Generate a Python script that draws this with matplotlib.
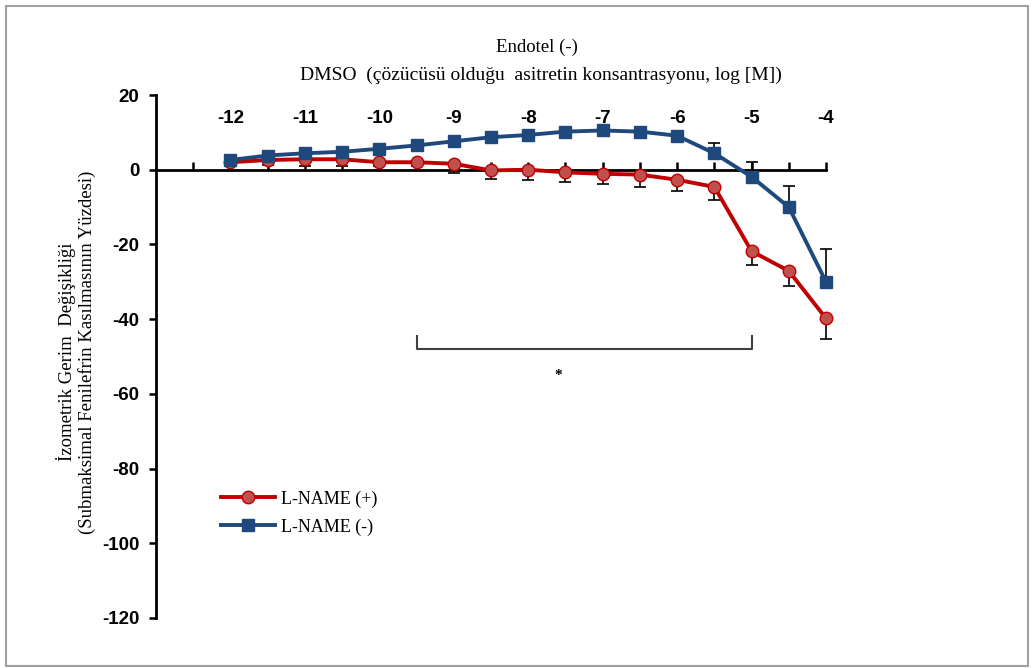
import matplotlib
matplotlib.use("Agg")
import matplotlib.pyplot as plt
from matplotlib.patches import Rectangle
import numpy as np

# ---- data ----
log_conc = [-12, -11.5, -11, -10.5, -10, -9.5, -9, -8.5, -8, -7.5, -7, -6.5, -6, -5.5, -5, -4.5, -4]
lname_pos = [2.0, 2.6, 2.8, 2.8, 2.0, 2.0, 1.6, -0.2, 0.0, -0.7, -1.1, -1.3, -2.7, -4.6, -21.8, -27.1, -39.8]
lname_pos_err = [1.0, 1.4, 1.8, 1.8, 1.0, 1.0, 2.5, 2.2, 2.8, 2.7, 2.7, 3.3, 3.1, 3.4, 3.6, 4.0, 5.6]
lname_neg = [2.6, 3.8, 4.4, 4.8, 5.6, 6.5, 7.6, 8.7, 9.3, 10.2, 10.5, 10.2, 9.1, 4.4, -1.9, -10.0, -30.0]
lname_neg_err = [0.8, 0.8, 0.8, 0.8, 0.8, 0.8, 0.8, 0.8, 0.8, 0.8, 0.8, 0.8, 0.8, 2.7, 3.9, 5.6, 8.8]
xtick_labels = [-12, -11, -10, -9, -8, -7, -6, -5, -4]
yticks = [20, 0, -20, -40, -60, -80, -100, -120]
series_names = ["L-NAME (+)", "L-NAME (-)"]
bracket_x = [-9.5, -5]

red = "#C00000"
red_fill = "#C0504D"
blue = "#1F497D"

fig = plt.figure(figsize=(10.35, 6.68), dpi=100)
ax = fig.add_axes([156/1035, 1-618/668, (826-156)/1035, (618-95)/668])

# error bars (one-sided)
z = np.zeros(len(log_conc))
e1 = ax.errorbar(log_conc, lname_pos, yerr=[lname_pos_err, z], fmt="none",
                 ecolor="black", elinewidth=1.2, capsize=4.5, capthick=1.2, zorder=2)
e2 = ax.errorbar(log_conc, lname_neg, yerr=[z, lname_neg_err], fmt="none",
                 ecolor="black", elinewidth=1.2, capsize=4.5, capthick=1.2, zorder=2)
for e in (e1, e2):
    for art in e.lines[1] + e.lines[2]:
        art.set_clip_on(False)

l1, = ax.plot(log_conc, lname_pos, color=red, lw=2.8, marker="o", ms=9,
              mfc=red_fill, mec=red, mew=1, zorder=4, label=series_names[0], clip_on=False)
l2, = ax.plot(log_conc, lname_neg, color=blue, lw=2.8, marker="s", ms=8.5,
              mfc=blue, mec=blue, zorder=5, label=series_names[1], clip_on=False)

ax.set_xlim(-13, -4)
ax.set_ylim(-120, 20)

for s in ["top", "right"]:
    ax.spines[s].set_visible(False)
ax.spines["bottom"].set_position(("data", 0))
ax.spines["bottom"].set_linewidth(2)
ax.spines["left"].set_linewidth(2)

ax.set_xticks(np.arange(-12.5, -3.9, 0.5))
ax.tick_params(axis="x", direction="in", length=6, width=1.8, labelbottom=False)
ax.set_yticks(yticks)
ax.set_yticklabels([str(v) for v in yticks], fontfamily="Liberation Sans",
                   fontweight="bold", fontsize=13.5)
ax.tick_params(axis="y", direction="out", length=5, width=1.8, pad=7)

for v in xtick_labels:
    ax.text(v, 13.7, str(v), ha="center", va="center", fontfamily="Liberation Sans",
            fontweight="bold", fontsize=13.5)

# significance bracket
ax.plot([bracket_x[0], bracket_x[0], bracket_x[1], bracket_x[1]],
        [-44.5, -48, -48, -44.5], color="#404040", lw=1.5, zorder=1)
ax.text(-7.6, -55, "*", ha="center", va="center", fontsize=11,
        fontfamily="Liberation Serif", fontweight="bold")

# titles
fig.text(537/1035, 1-47/668, "Endotel (-)", ha="center", va="center",
         fontfamily="Liberation Serif", fontsize=13.5)
fig.text(541/1035, 1-75/668, "DMSO  (çözücüsü olduğu  asitretin konsantrasyonu, log [M])",
         ha="center", va="center", fontfamily="Liberation Serif", fontsize=14)

fig.text(76/1035, 1-352/668,
         "İzometrik Gerim  Değişikliği\n(Submaksimal Fenilefrin Kasılmasının Yüzdesi)",
         ha="center", va="center", rotation=90, multialignment="center",
         fontfamily="Liberation Serif", fontsize=13.5, linespacing=1.2)

leg = fig.legend(handles=[l1, l2], loc="upper left",
                 bbox_to_anchor=(205/1035, 1-474/668), frameon=False,
                 prop={"family": "Liberation Serif", "size": 13},
                 handlelength=3, handletextpad=0.3, labelspacing=0.6)

fig.patches.append(Rectangle((6/1035, 1-666/668), (1028-6)/1035, (666-6)/668,
                             transform=fig.transFigure, fill=False,
                             edgecolor="#A0A0A0", lw=1.5))

fig.savefig("out.png", dpi=100)
